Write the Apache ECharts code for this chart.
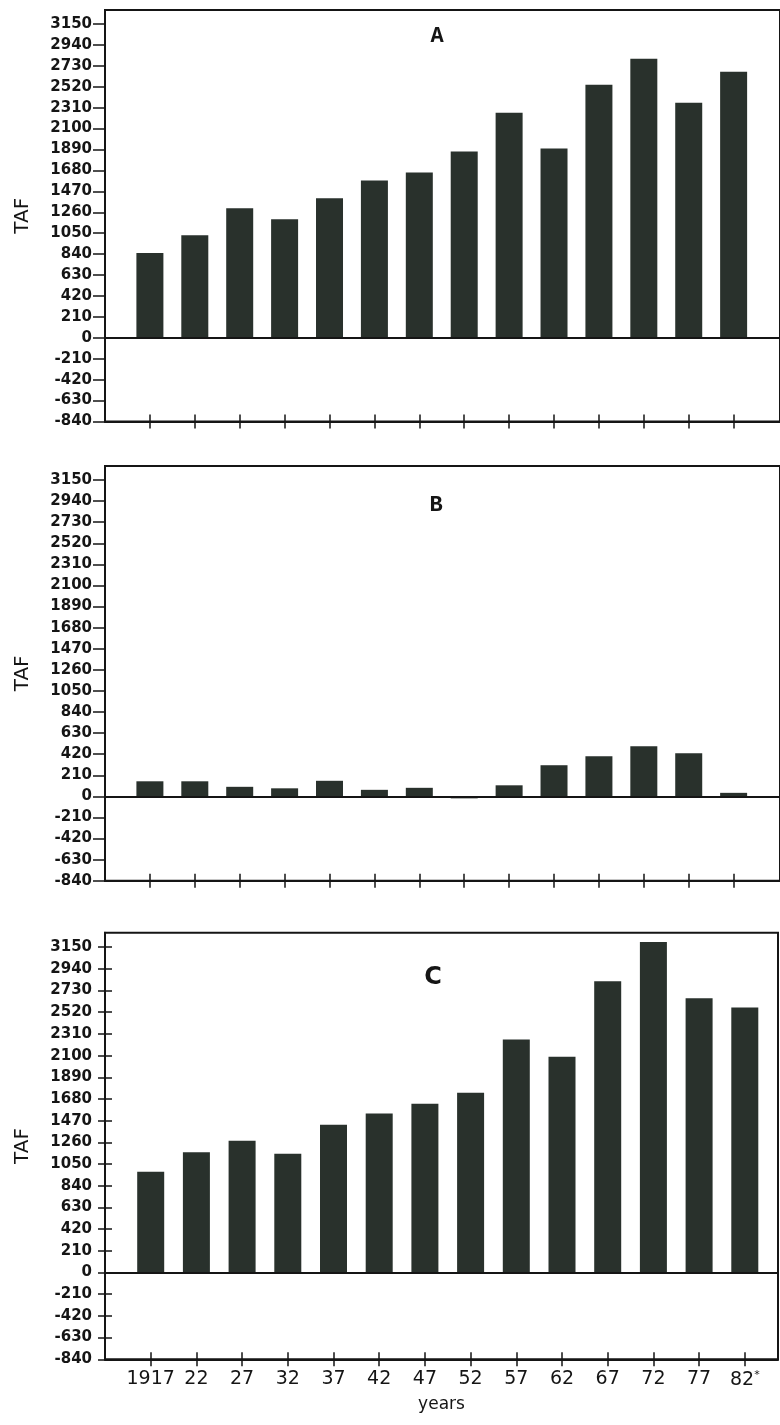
<!DOCTYPE html>
<html><head><meta charset="utf-8">
<script src="https://cdn.jsdelivr.net/npm/echarts@6/dist/echarts.min.js"></script>
<style>html,body{margin:0;padding:0;background:#fff}#c{width:780px;height:1425px}</style>
</head><body><div id="c"></div>
<script>
// ---- data ----
const years = [1917,1922,1927,1932,1937,1942,1947,1952,1957,1962,1967,1972,1977,1982];
const yearLabels = ['1917','22','27','32','37','42','47','52','57','62','67','72','77','82*'];
const seriesA = [850,1030,1300,1190,1400,1580,1660,1870,2260,1900,2540,2800,2360,2670];
const seriesB = [150,150,95,80,155,65,85,-20,110,310,400,500,430,35];
const seriesC = [975,1165,1275,1150,1430,1540,1635,1740,2255,2090,2820,3200,2655,2565];
const yTicks = [-840,-630,-420,-210,0,210,420,630,840,1050,1260,1470,1680,1890,2100,2310,2520,2730,2940,3150];
const panelNames = ['A','B','C'];
const yName = 'TAF';
const xName = 'years';

// ---- layout ----
const W = 780;
const pxPerYear = 9.14;
const xMin = 1912;
const grids = [
  {left:105, right:-12, top:10, height:411.5},
  {left:105, right:-12, top:466, height:414.7},
  {left:105, right:2, top:932.7, height:426.6}
];
const letterPos = [[437,36,'bold 22px "Liberation Mono"'],[436,505,'bold 22px "Liberation Mono"'],[433,978,'bold 24px "DejaVu Sans"']];
const values = [seriesA, seriesB, seriesC];
const ink = '#151515';
const barColor = '#29312c';

const option = {
  backgroundColor:'#fff',
  animation:false,
  grid: grids.map(g => ({left:g.left, right:g.right, top:g.top, height:g.height, show:true, borderColor:ink, borderWidth:2, backgroundColor:'transparent'})),
  xAxis: [], yAxis: [], series: [],
  graphic: panelNames.map((t,i) => ({type:'text', x:letterPos[i][0], y:letterPos[i][1], style:{text:t, fill:ink, font:letterPos[i][2], align:'center', verticalAlign:'middle'}}))
};

grids.forEach((g,i) => {
  const width = W - g.left - g.right;
  const xMax = xMin + width / pxPerYear;
  const showX = i === 2;
  // main bottom x axis (outward ticks, labels)
  option.xAxis.push({
    type:'value', gridIndex:i, min:xMin, max:xMax, position:'bottom',
    axisLine:{show:true, onZero:false, lineStyle:{color:ink, width:2}},
    axisTick:{show:true, customValues:years, inside:false, length:7, lineStyle:{color:ink, width:1.5}},
    axisLabel: showX ? {show:true, customValues:years, margin:10, color:ink, fontFamily:'DejaVu Sans', fontSize:19,
      formatter: v => { const s = yearLabels[years.indexOf(v)] || ''; return s.endsWith('*') ? s.slice(0,-1) + '{s|*}' : s; },
      rich:{s:{fontSize:11, fontFamily:'DejaVu Sans', color:ink, padding:[0,0,10,0]}}} : {show:false},
    splitLine:{show:false},
    name: showX ? xName : '', nameLocation:'middle', nameGap:37,
    nameTextStyle:{color:ink, fontFamily:'DejaVu Sans', fontSize:17}
  });
  // companion axis placed on the bottom line: ticks pointing up into the plot (completes the "+" ticks)
  option.xAxis.push({
    type:'value', gridIndex:i, min:xMin, max:xMax, position:'top', offset:-g.height,
    axisLine:{show:false, onZero:false},
    axisTick:{show:true, customValues:years, inside:false, length:7, lineStyle:{color:ink, width:1.5}},
    axisLabel:{show:false}, splitLine:{show:false}
  });
  option.yAxis.push({
    type:'value', gridIndex:i, min:-840, max:3290, position:'left',
    axisLine:{show:true, lineStyle:{color:ink, width:2}},
    axisTick:{show:true, customValues:yTicks, inside:false, length:7, lineStyle:{color:ink, width:1.5}},
    axisLabel:{show:true, customValues:yTicks, margin:13, color:ink, fontFamily:'DejaVu Sans', fontWeight:'bold', fontSize:15,
      formatter: v => String(v)},
    splitLine:{show:false},
    name:yName, nameLocation:'middle', nameGap:72, nameRotate:90,
    nameTextStyle:{color:ink, fontFamily:'DejaVu Sans', fontSize:20}
  });
  // companion axis placed on the left line: ticks pointing right into the plot
  option.yAxis.push({
    type:'value', gridIndex:i, min:-840, max:3290, position:'right', offset:-width,
    axisLine:{show:false},
    axisTick:{show:true, customValues:yTicks, inside:false, length:7, lineStyle:{color:ink, width:1.5}},
    axisLabel:{show:false}, splitLine:{show:false}
  });
  option.series.push({
    type:'bar', xAxisIndex:2*i, yAxisIndex:2*i, barWidth:27,
    data: years.map((y,k) => [y, values[i][k]]),
    itemStyle:{color:barColor},
    markLine:{silent:true, symbol:'none', label:{show:false}, lineStyle:{color:ink, width:1.8, type:'solid'}, data:[{yAxis:0}]}
  });
});

const chart = echarts.init(document.getElementById('c'), null, {renderer:'canvas'});
chart.setOption(option);
</script>
</body></html>
